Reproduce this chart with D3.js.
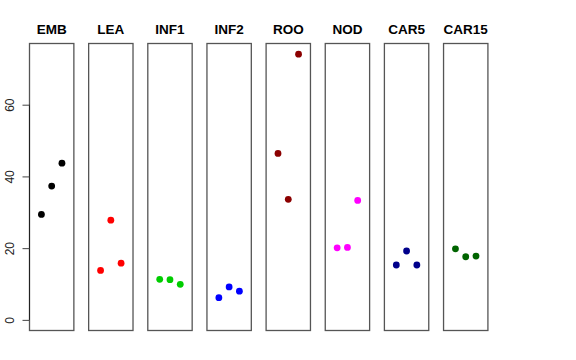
<!DOCTYPE html>
<html><head><meta charset="utf-8">
<script src="https://cdn.jsdelivr.net/npm/d3@7"></script>
<style>body{margin:0;background:#fff}svg{display:block}</style>
</head><body><svg id="c" width="576" height="360"></svg>
<script>
const categories = ["EMB","LEA","INF1","INF2","ROO","NOD","CAR5","CAR15"];
const colors = ["#000000","#FF0000","#00CD00","#0000FF","#8B0000","#FF00FF","#00008B","#006400"];
const rep1 = [29.4, 13.8, 11.3, 6.2, 46.4, 20.1, 15.3, 19.8];
const rep2 = [37.3, 27.8, 11.2, 9.2, 33.6, 20.2, 19.2, 17.6];
const rep3 = [43.7, 15.8, 9.9, 8.0, 74.1, 33.3, 15.3, 17.8];
const yTicks = [0, 20, 40, 60];

(function () {
const svg = d3.select("#c");
const yTop = 43.5, yBottom = 330.5;
const ymax = d3.max([...rep1, ...rep2, ...rep3]);
const y = d3.scaleLinear().domain([-0.04*ymax, 1.04*ymax]).range([yBottom, yTop]);
const step = 59.15;
const panel = d3.scaleBand().domain(categories).range([29.5, 29.5 + step*7.75]).paddingInner(0.25).paddingOuter(0);
const xin = d3.scaleLinear().domain([-0.16, 4.16]).range([0, panel.bandwidth()]);

categories.forEach((cat, i) => {
  const g = svg.append("g").attr("transform", `translate(${panel(cat)},0)`);
  g.append("rect").attr("x", 0).attr("y", yTop).attr("width", panel.bandwidth()).attr("height", yBottom - yTop)
    .attr("fill", "none").attr("stroke", "#555").attr("stroke-width", 1.3);
  g.append("text").attr("x", panel.bandwidth()/2).attr("y", 34)
    .attr("text-anchor", "middle").attr("font-family", "Liberation Sans, Arial, sans-serif")
    .attr("font-weight", "bold").attr("font-size", 13.5).text(cat);
  const vals = [rep1[i], rep2[i], rep3[i]];
  g.selectAll("circle").data(vals).join("circle")
    .attr("cx", (d, j) => xin(j + 1)).attr("cy", d => y(d)).attr("r", 3.4)
    .attr("fill", colors[i]);
});

const ax = svg.append("g").attr("transform", "translate(29.5,0)")
  .call(d3.axisLeft(y).tickValues(yTicks).tickSize(7).tickPadding(4).tickFormat(d3.format("d")));
ax.select(".domain").attr("d", `M0,${y(0)}V${y(60)}`).attr("stroke", "#222");
ax.selectAll(".tick line").attr("stroke", "#444");
ax.selectAll(".tick text").attr("font-family", "Liberation Sans, Arial, sans-serif").attr("font-size", 12)
  .attr("fill", "#222")
  .attr("transform", "rotate(-90)").attr("x", 0).attr("y", -16).attr("dy", 0).attr("text-anchor", "middle");
})();
</script></body></html>
